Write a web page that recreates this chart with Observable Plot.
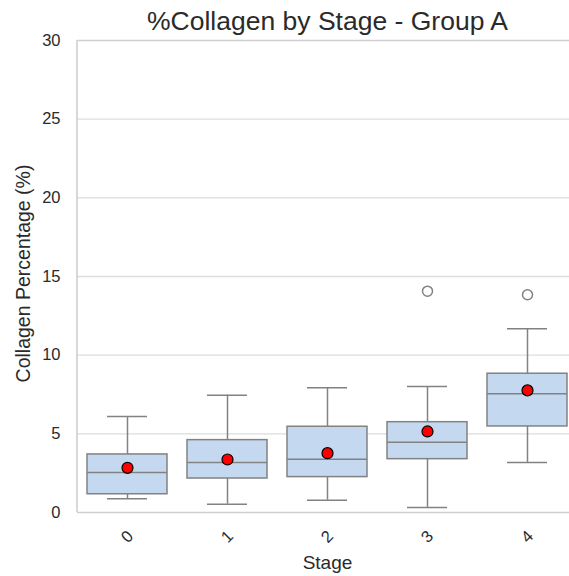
<!DOCTYPE html>
<html>
<head>
<meta charset="utf-8">
<script src="https://cdn.jsdelivr.net/npm/d3@7"></script>
<script src="https://cdn.jsdelivr.net/npm/@observablehq/plot@0.6"></script>
<style>
  html, body { margin: 0; padding: 0; background: #fff; }
  svg { font-family: "Liberation Sans", Arial, sans-serif; }
</style>
</head>
<body>
<div id="chart"></div>
<script>
const stages = ["0", "1", "2", "3", "4"];
const whiskerLow = [0.87, 0.53, 0.78, 0.32, 3.18];
const q1 = [1.16, 2.16, 2.25, 3.39, 5.47];
const median = [2.54, 3.18, 3.39, 4.47, 7.55];
const q3 = [3.69, 4.60, 5.45, 5.74, 8.82];
const whiskerHigh = [6.10, 7.46, 7.93, 8.01, 11.68];
const means = [2.84, 3.37, 3.77, 5.15, 7.76];
const outlierStage = ["3", "4"];
const outlierValue = [14.07, 13.84];
const yTicks = [0, 5, 10, 15, 20, 25, 30];
const title = "%Collagen by Stage - Group A";

const stats = stages.map((s, i) => ({
  stage: s, lo: whiskerLow[i], q1: q1[i], med: median[i], q3: q3[i], hi: whiskerHigh[i], mean: means[i]
}));
const outliers = outlierStage.map((s, i) => ({stage: s, value: outlierValue[i]}));

const gray = "#828282";
const ink = "#2a2a2a";
const chart = Plot.plot({
  width: 569,
  height: 576,
  marginLeft: 77,
  marginRight: 0,
  marginTop: 40,
  marginBottom: 64,
  style: {fontFamily: "Liberation Sans, Arial, sans-serif", fontSize: "16px", color: ink, background: "#fff"},
  x: {type: "band", domain: stages, range: [77, 577], paddingInner: 0.2, paddingOuter: 0.1, label: null},
  y: {domain: [0, 30], label: null},
  marks: [
    Plot.ruleY([5, 10, 15, 20, 25], {stroke: "#dcdcdc", strokeWidth: 1.3}),
    Plot.ruleY([0, 30], {stroke: "#cfcfcf", strokeWidth: 1.6}),
    Plot.axisY(yTicks, {tickSize: 0, tickPadding: 17, fontSize: 16.5, label: null}),
    Plot.axisX({tickSize: 0, tickPadding: 21, tickRotate: -45, fontSize: 16.5, dx: 3, label: null}),
    Plot.ruleX(stats, {x: "stage", y1: "lo", y2: "q1", stroke: gray, strokeWidth: 1.5}),
    Plot.ruleX(stats, {x: "stage", y1: "q3", y2: "hi", stroke: gray, strokeWidth: 1.5}),
    Plot.tickY(stats, {x: "stage", y: "lo", stroke: gray, strokeWidth: 1.5, insetLeft: 20, insetRight: 20}),
    Plot.tickY(stats, {x: "stage", y: "hi", stroke: gray, strokeWidth: 1.5, insetLeft: 20, insetRight: 20}),
    Plot.barY(stats, {x: "stage", y1: "q1", y2: "q3", fill: "#c4d8f0", stroke: gray, strokeWidth: 1.5}),
    Plot.tickY(stats, {x: "stage", y: "med", stroke: gray, strokeWidth: 1.5}),
    Plot.dot(outliers, {x: "stage", y: "value", r: 5, stroke: gray, strokeWidth: 1.5, fill: "none"}),
    Plot.dot(stats, {x: "stage", y: "mean", r: 5.5, fill: "#ff0000", stroke: "#000", strokeWidth: 1.2}),
    Plot.text([title], {x: () => "2", y: () => 30, dy: -19, text: d => d, fontSize: 26.5, fill: ink}),
    Plot.text(["Stage"], {x: () => "2", y: () => 0, dy: 50, text: d => d, fontSize: 19, fill: ink}),
    Plot.text(["Collagen Percentage (%)"], {frameAnchor: "left", dx: -54, dy: -3, text: d => d, rotate: -90, textAnchor: "middle", fontSize: 19.5, fill: ink})
  ]
});
// left spine
const svg = d3.select(chart);
svg.append("line").attr("x1", 77).attr("x2", 77).attr("y1", 40).attr("y2", 512)
  .attr("stroke", "#cfcfcf").attr("stroke-width", 1.6);
document.getElementById("chart").appendChild(chart);
</script>
</body>
</html>
